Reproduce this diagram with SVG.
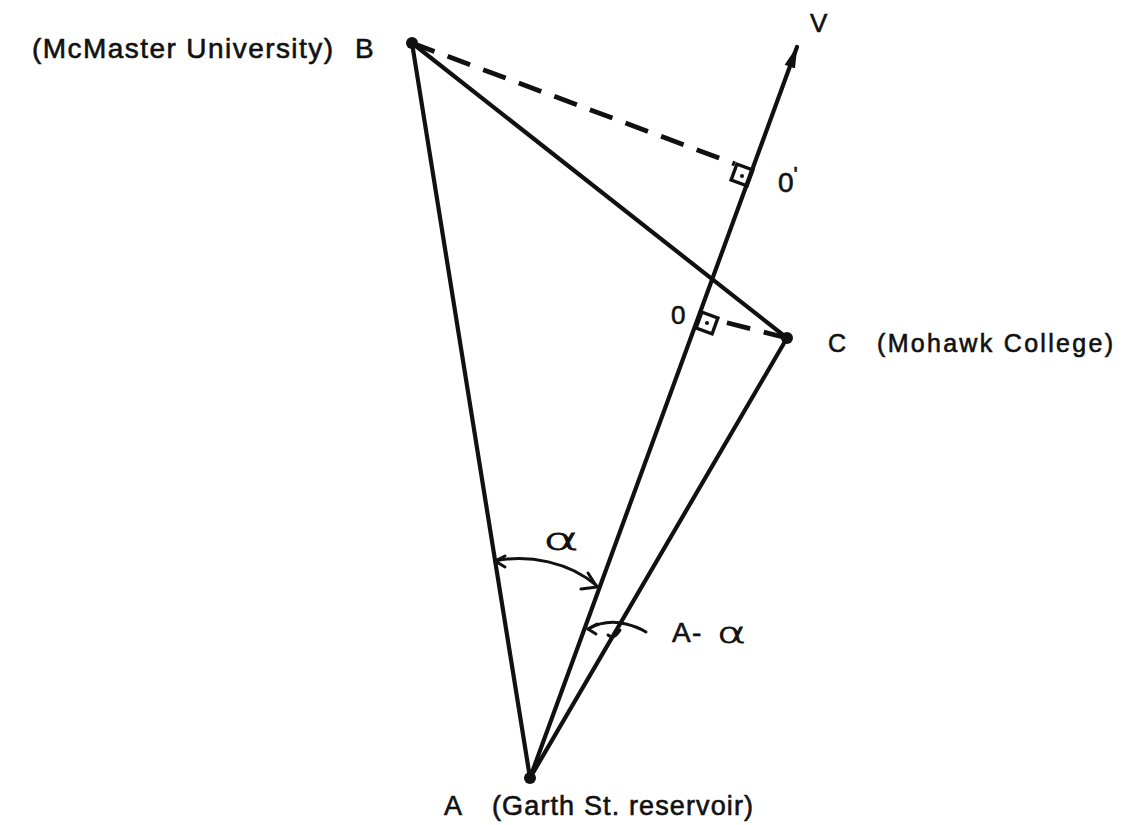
<svg xmlns="http://www.w3.org/2000/svg" width="1129" height="825" viewBox="0 0 1129 825">
<style>
text{font-family:"Liberation Sans",Arial,sans-serif;fill:#111;stroke:#111;stroke-width:0.6}
.ln{stroke:#111;stroke-width:4.2;fill:none;stroke-linecap:round}
.dash{stroke:#111;stroke-width:4.8;fill:none;stroke-dasharray:24 14}
.thin{stroke:#111;stroke-width:3;fill:none;stroke-linecap:round;stroke-linejoin:round}
.sq{stroke:#111;stroke-width:3.4;fill:none}
.dot{fill:#111}
.alpha{font-family:"DejaVu Sans","Liberation Sans",sans-serif;font-weight:200;stroke-width:0.8}
</style>
<defs>
<marker id="arr" markerUnits="userSpaceOnUse" markerWidth="26" markerHeight="16" refX="21" refY="7" orient="auto">
<path d="M0,1.5 L22,7 L0,12.5 Z" fill="#111"/>
</marker>
</defs>
<rect width="1129" height="825" fill="#fff"/>
<g id="connectors">
<line class="ln" x1="412" y1="43" x2="530" y2="778"/>
<line class="ln" x1="530" y1="778" x2="787" y2="338"/>
<line class="ln" x1="412" y1="43" x2="787" y2="338"/>
<line class="ln" x1="530" y1="778" x2="797" y2="47" marker-end="url(#arr)"/>
<line class="dash" x1="412" y1="43" x2="735" y2="164"/>
<line class="dash" x1="787" y1="338" x2="716" y2="320" stroke-dasharray="14 10"/>
<path class="thin" d="M495,561 C528,554 570,562 597,586"/>
<path class="thin" d="M505,556 L495,561 L505,567"/>
<path class="thin" d="M581,589 L597,587 L588,573"/>
<path class="thin" d="M588,629 Q606,619 626,624 Q638,627 646,632"/>
<path class="thin" d="M597,624 L588,629 L596,634"/>
<path class="thin" d="M608,635 Q614,640 620,630"/>
</g>
<g id="node-O-prime">
<rect class="sq" x="-8.5" y="-8.5" width="17" height="17" transform="translate(742,175) rotate(20)"/>
<circle class="dot" cx="742" cy="176" r="2"/>
<text x="778" y="192" font-size="28">0<tspan dy="-10" font-size="22">'</tspan></text>
</g>
<g id="node-O">
<rect class="sq" x="-8.5" y="-8.5" width="17" height="17" transform="translate(707,323) rotate(20)"/>
<circle class="dot" cx="707" cy="323" r="2"/>
<text x="671" y="324" font-size="26">0</text>
</g>
<g id="node-B">
<circle class="dot" cx="412" cy="43" r="6"/>
<text x="32" y="58" font-size="28" textLength="301" lengthAdjust="spacing">(McMaster University)</text>
<text x="355" y="58" font-size="28">B</text>
</g>
<g id="node-C">
<circle class="dot" cx="787" cy="338" r="6"/>
<text x="828" y="352" font-size="25">C</text>
<text x="877" y="352" font-size="25" textLength="236" lengthAdjust="spacing">(Mohawk College)</text>
</g>
<g id="node-A">
<circle class="dot" cx="530" cy="778" r="6"/>
<text x="444" y="815" font-size="27">A</text>
<text x="492" y="815" font-size="27" textLength="261" lengthAdjust="spacing">(Garth St. reservoir)</text>
</g>
<g id="node-V">
<text x="810" y="32" font-size="26">V</text>
</g>
<g id="labels">
<text class="alpha" x="543" y="550" font-size="30" textLength="36" lengthAdjust="spacingAndGlyphs">α</text>
<text x="672" y="642" font-size="28">A<tspan x="692" font-size="28">-</tspan><tspan class="alpha" x="717" y="643" font-size="28" textLength="29" lengthAdjust="spacingAndGlyphs">α</tspan></text>
</g>
</svg>
